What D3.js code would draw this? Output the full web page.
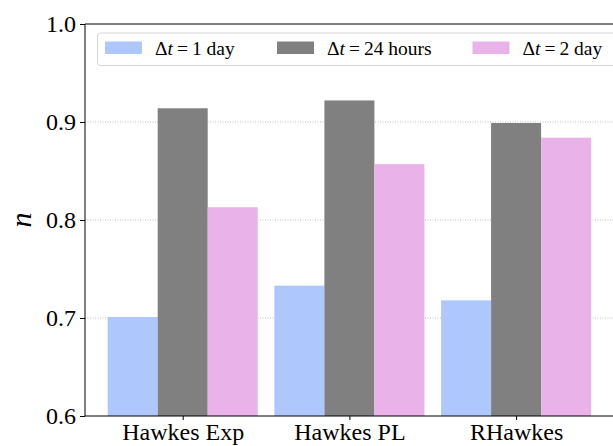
<!DOCTYPE html>
<html>
<head>
<meta charset="utf-8">
<script src="https://cdn.jsdelivr.net/npm/d3@7"></script>
<style>
  body { margin: 0; background: #fff; }
</style>
</head>
<body>
<script>
// data
const models = ["Hawkes Exp", "Hawkes PL", "RHawkes"];
const seriesNames = ["1 day", "24 hours", "2 day"];
const day1 = [0.701, 0.733, 0.718];
const hours24 = [0.914, 0.922, 0.899];
const day2 = [0.813, 0.857, 0.884];
const yTicks = [0.6, 0.7, 0.8, 0.9, 1.0];
const colors = ["#aec7fd", "#808080", "#e9b3ea"];

const series = [day1, hours24, day2];
const serif = "'Liberation Serif', 'DejaVu Serif', serif";

const w = 613, h = 446;
const svg = d3.select("body").append("svg")
  .attr("width", w).attr("height", h)
  .style("font-family", serif);

// plot area (right edge sits just past the window)
const axLeft = 85, axTop = 24, axBottom = 416;
const step = 166.7;
const x = d3.scaleLinear().domain([0, 1]).range([182.7, 182.7 + step]);
const y = d3.scaleLinear().domain([0.6, 1.0]).range([axBottom, axTop]);
const axRight = x(2.595);
const barW = x(0.3) - x(0);

// grid
svg.append("g").selectAll("line")
  .data(yTicks.slice(1, -1))
  .enter().append("line")
  .attr("x1", axLeft).attr("x2", axRight)
  .attr("y1", d => y(d)).attr("y2", d => y(d))
  .attr("stroke", "#b0b0b0").attr("stroke-width", 0.8)
  .attr("stroke-dasharray", "1,1.5");

// bars
series.forEach((vals, s) => {
  svg.append("g").selectAll("rect")
    .data(vals)
    .enter().append("rect")
    .attr("x", (d, i) => x(i + (s - 1) * 0.3 - 0.15))
    .attr("y", d => y(d))
    .attr("width", barW)
    .attr("height", d => y(0.6) - y(d))
    .attr("fill", colors[s]);
});

// axes
const yAxis = d3.axisLeft(y).tickValues(yTicks).tickFormat(d3.format(".1f"))
  .tickSize(5).tickPadding(4);
const gy = svg.append("g").attr("transform", `translate(${axLeft},0)`).call(yAxis)
  .attr("font-family", null).attr("font-size", 24);
gy.select(".domain").remove();
gy.selectAll("text").attr("fill", "#000");
gy.selectAll("line").attr("stroke", "#000");

const xAxis = d3.axisBottom(x).tickValues([0, 1, 2]).tickFormat(i => models[i])
  .tickSize(4).tickPadding(3);
const gx = svg.append("g").attr("transform", `translate(0,${axBottom})`).call(xAxis)
  .attr("font-family", null).attr("font-size", 24);
gx.select(".domain").remove();
gx.selectAll("text").attr("fill", "#000");
gx.selectAll("line").attr("stroke", "#000");

// spines
const spine = svg.append("g").attr("stroke", "#000").attr("stroke-width", 1);
spine.append("line").attr("x1", axLeft).attr("x2", axLeft).attr("y1", axTop).attr("y2", axBottom);
spine.append("line").attr("x1", axLeft).attr("x2", axRight).attr("y1", axTop).attr("y2", axTop);
spine.append("line").attr("x1", axLeft).attr("x2", axRight).attr("y1", axBottom).attr("y2", axBottom);

// y label
svg.append("text")
  .attr("transform", `translate(31,${(axTop + axBottom) / 2}) rotate(-90)`)
  .attr("text-anchor", "middle")
  .attr("font-size", 30).attr("font-style", "italic")
  .text("n");

// legend
const lg = svg.append("g");
lg.append("rect")
  .attr("x", 97.5).attr("y", 33).attr("width", 530).attr("height", 32.5)
  .attr("rx", 3).attr("fill", "#fff").attr("fill-opacity", 0.8)
  .attr("stroke", "#d6d6d6").attr("stroke-width", 1);
const legX = [105, 277, 472.5];
const item = lg.selectAll("g.item").data(seriesNames).enter().append("g")
  .attr("transform", (d, i) => `translate(${legX[i]},0)`);
item.append("rect")
  .attr("x", 0).attr("y", 41.5).attr("width", 37).attr("height", 12.5)
  .attr("fill", (d, i) => colors[i]);
const t = item.append("text")
  .attr("x", 50).attr("y", 54.5)
  .attr("font-size", 19.5);
t.append("tspan").text("\u0394");
t.append("tspan").attr("font-style", "italic").text("t");
t.append("tspan").attr("dx", 4).text("=");
t.append("tspan").attr("dx", 4).text(d => d);
</script>
</body>
</html>
